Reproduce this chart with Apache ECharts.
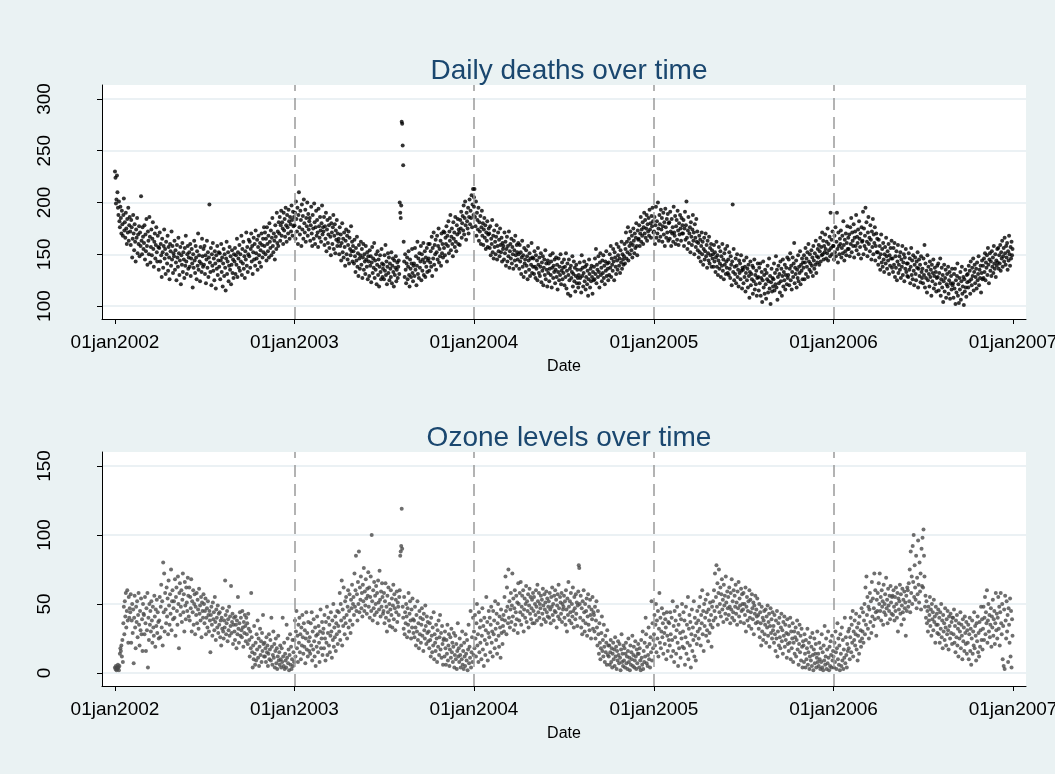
<!DOCTYPE html>
<html>
<head>
<meta charset="utf-8">
<title>Daily deaths and ozone</title>
<script src="https://cdn.jsdelivr.net/npm/echarts@6/dist/echarts.min.js"></script>
<style>
  html, body { margin: 0; padding: 0; background: #eaf2f3; }
  #main { width: 1055px; height: 774px; }
</style>
</head>
<body>
<div id="main"></div>
<script>
// one value per day from 1 Jan of each year, one row per month
var years = [2002, 2003, 2004, 2005, 2006];
var tickYears = [2002, 2003, 2004, 2005, 2006, 2007];
var deathTicks = [100, 150, 200, 250, 300];
var ozoneTicks = [0, 50, 100, 150];

var deaths2002 = [
  230,224,199,203,226,210,195,188,201,182,176,196,185,170,192,179,168,188,204,173,181,166,190,175,160,184,171,195,163,178,186,
  172,159,183,176,147,165,188,170,154,179,162,143,174,166,185,151,169,160,177,148,171,158,206,163,150,176,167,155,
  161,178,145,169,153,184,158,140,172,163,150,186,167,142,157,174,149,165,181,155,138,162,170,146,159,176,152,143,168,157,135,
  156,171,143,160,149,128,165,152,137,158,174,146,155,131,162,150,141,168,134,157,147,126,160,153,139,172,145,158,132,151,
  148,163,135,154,142,125,159,147,138,166,151,130,144,157,121,149,140,161,133,152,145,127,156,139,168,143,131,150,158,136,147,
  152,138,160,129,146,155,141,118,150,137,163,144,132,158,147,126,153,139,170,135,149,143,124,157,141,133,165,148,138,155,
  140,158,131,149,122,145,163,137,152,128,147,198,142,133,156,120,150,139,161,134,146,125,153,141,117,149,136,158,130,144,152,
  138,151,126,144,160,133,147,119,141,155,129,150,137,115,146,162,131,143,152,124,139,157,135,148,121,140,154,132,145,127,150,
  143,156,131,149,140,165,128,152,146,137,159,134,150,143,168,130,155,141,162,136,148,127,153,145,171,139,157,133,150,164,
  148,162,137,155,170,143,158,131,152,166,145,160,139,173,151,146,164,135,157,168,149,142,161,154,138,170,159,147,165,152,176,
  158,171,150,165,144,176,160,153,168,147,180,162,156,173,149,166,185,158,152,170,163,145,178,167,155,190,161,172,158,181,
  170,186,163,178,192,168,181,175,160,190,173,184,167,195,178,162,188,176,170,193,182,165,186,179,172,197,183,168,191,177,186];
var deaths2003 = [
  178,190,165,201,184,172,195,160,188,210,176,169,192,183,158,198,174,187,165,203,180,171,193,162,185,177,200,168,189,174,182,
  185,163,178,196,170,158,188,175,165,199,181,160,176,192,168,183,171,157,194,177,166,186,173,162,180,197,169,176,
  172,186,159,177,165,190,153,174,183,161,169,178,156,185,167,149,180,171,160,176,188,155,168,179,151,173,164,183,158,170,162,
  165,150,176,158,169,144,161,180,152,165,147,171,157,139,163,174,150,168,145,159,172,141,166,155,149,177,153,162,143,158,
  153,141,164,148,133,156,144,167,138,151,129,159,146,136,149,162,140,155,127,147,160,135,150,143,131,158,145,138,152,126,148,
  143,129,154,139,148,123,142,157,132,146,137,161,127,144,135,150,121,140,153,130,145,119,138,149,133,126,155,141,128,136,
  140,126,149,134,159,130,143,121,138,151,132,147,125,141,136,128,152,122,139,146,133,119,144,130,137,148,124,135,142,127,138,
  144,131,200,190,185,197,278,276,255,236,162,143,128,150,135,122,141,147,126,138,153,130,119,145,136,128,141,155,132,124,139,
  141,129,156,135,148,120,139,162,131,146,127,151,137,143,158,125,150,134,145,161,130,142,153,128,147,138,156,133,144,160,
  146,134,160,142,153,138,167,129,156,146,171,140,159,150,164,135,152,168,145,158,175,142,155,148,163,139,170,151,160,147,172,
  156,171,149,166,160,177,143,168,158,182,151,172,163,188,154,167,175,160,148,181,165,171,157,186,162,153,178,169,184,160,174,
  171,159,183,175,191,166,180,187,173,197,169,185,201,178,164,190,182,175,195,170,186,203,179,192,185,207,176,198,213,188,205];
var deaths2004 = [
  196,213,186,177,201,168,190,183,174,195,163,181,172,187,160,176,192,168,180,159,174,185,166,178,155,171,163,182,157,169,175,
  170,156,177,149,165,160,183,152,168,146,173,157,162,150,167,178,145,158,171,153,164,148,175,159,152,166,143,161,155,
  158,145,171,151,162,139,155,167,143,158,148,172,137,153,160,146,165,141,157,150,136,163,154,144,168,149,139,159,152,145,161,
  150,136,159,143,152,131,147,163,138,149,128,156,141,145,133,154,139,148,126,158,144,135,151,129,146,140,161,132,147,138,
  146,131,153,138,127,149,136,144,125,156,140,132,147,129,138,151,123,142,134,148,120,137,145,130,154,126,141,135,119,144,132,
  141,124,136,149,130,143,118,137,151,127,139,133,145,122,135,147,128,140,116,133,146,125,138,130,150,121,134,142,126,137,
  132,145,120,138,128,151,117,134,141,112,130,145,125,136,110,139,127,133,148,119,131,143,124,137,114,129,140,122,135,127,118,
  130,122,142,127,135,113,149,129,137,119,132,143,124,138,116,128,140,121,134,110,126,145,131,118,136,124,139,128,112,133,125,
  138,126,146,131,155,122,140,135,128,148,133,118,142,151,130,137,124,144,132,149,127,139,121,143,134,153,129,141,136,125,
  142,130,150,137,158,128,146,140,134,155,143,125,152,147,138,131,160,144,135,149,157,139,146,132,154,142,162,136,150,145,140,
  148,160,141,155,171,146,162,152,176,144,165,158,150,172,161,154,168,147,159,175,163,151,170,156,166,180,158,149,173,164,
  165,178,158,170,186,162,174,168,181,160,176,190,170,183,166,175,188,163,179,172,185,168,193,174,180,166,187,177,195,182,171];
var deaths2005 = [
  172,186,160,178,196,166,182,170,200,175,163,188,179,167,193,174,185,162,177,190,169,181,158,194,176,166,184,171,189,163,180,
  181,165,191,172,158,184,170,176,162,196,171,168,187,160,177,183,164,192,173,159,180,169,188,175,163,185,170,178,
  170,183,158,175,191,164,178,201,166,155,173,186,161,170,176,152,181,167,159,174,188,163,171,150,179,166,157,184,162,172,154,
  161,147,168,152,164,143,158,171,150,162,140,155,166,145,153,170,148,159,137,163,151,144,167,141,156,149,160,138,154,146,
  150,138,159,143,152,133,147,162,138,149,130,144,157,136,141,153,128,148,139,160,134,145,126,151,140,155,131,143,137,158,132,
  145,130,152,136,127,148,140,120,143,198,133,155,125,138,131,146,122,139,150,128,135,119,144,132,141,126,149,134,117,137,
  135,122,144,128,138,114,132,147,125,136,118,140,129,108,133,143,120,131,126,139,112,137,124,145,116,130,121,134,110,127,141,
  128,115,137,122,141,110,127,133,104,125,143,118,130,112,135,121,107,132,126,139,113,124,146,117,129,102,123,136,114,127,119,
  126,141,115,132,121,148,118,135,106,128,139,122,131,113,143,124,136,110,129,145,119,133,125,140,116,130,137,121,147,127,
  130,145,120,136,151,125,139,116,133,147,128,141,161,122,137,131,144,118,135,127,149,124,138,132,153,121,140,134,146,126,142,
  137,149,126,142,156,131,146,138,152,128,160,143,135,150,141,133,154,139,147,129,158,144,136,151,140,163,132,148,142,155,
  147,159,140,153,166,143,157,149,171,150,163,145,158,152,169,155,146,162,151,175,144,160,154,167,148,190,156,164,150,172,158];
var deaths2006 = [
  158,145,168,152,176,148,162,190,155,142,171,158,150,165,160,173,147,156,168,151,182,159,144,164,153,170,149,161,177,155,166,
  155,169,148,176,160,185,152,171,163,158,179,147,166,172,158,188,154,167,161,174,150,182,165,157,170,146,176,162,
  163,191,150,175,158,168,195,155,181,162,148,171,186,160,166,153,178,164,145,172,157,184,150,169,161,176,144,158,170,152,165,
  152,140,164,147,158,135,150,169,142,155,138,161,145,133,150,157,141,166,148,136,153,144,160,131,149,139,156,146,163,137,
  146,133,156,140,161,128,148,137,153,125,143,159,132,140,148,135,152,127,145,138,158,130,142,150,124,147,136,155,133,141,129,
  141,128,151,135,146,122,138,156,130,144,126,149,134,120,140,147,131,125,143,137,152,118,136,145,129,140,123,148,133,127,
  136,122,146,130,159,118,141,127,134,113,149,125,138,131,119,143,128,135,110,140,124,132,145,117,129,137,121,133,114,127,139,
  128,141,115,132,122,146,110,126,137,118,130,104,124,140,114,127,135,108,121,131,119,138,112,125,133,107,122,129,116,136,120,
  122,108,131,117,136,102,125,113,129,141,110,121,103,127,116,133,106,124,138,112,119,128,101,126,114,135,118,109,130,123,
  131,118,139,124,134,112,143,126,120,137,129,146,115,133,140,122,128,136,117,142,125,131,148,120,135,127,139,113,132,144,126,
  139,127,146,133,151,125,142,137,149,130,156,140,122,145,151,134,143,129,153,138,147,132,158,141,136,150,128,144,139,155,
  142,156,136,149,141,159,134,152,146,163,138,148,156,143,166,151,140,158,147,161,135,153,144,168,150,139,157,146,162,149,155];

var ozone2002 = [
  4,3,5,2,4,3,6,4,2,5,14,18,16,20,12,24,8,36,48,28,52,41,58,33,45,60,38,22,55,40,47,
  44,57,22,38,50,29,46,7,40,56,33,18,48,37,52,26,42,58,35,20,45,31,54,28,39,16,50,43,
  42,28,55,36,16,47,31,58,4,40,24,50,35,45,30,52,38,22,48,33,27,56,41,19,46,34,53,29,44,37,25,
  38,55,26,48,64,33,52,20,80,44,72,30,58,46,36,62,41,54,28,67,49,35,57,43,75,31,52,60,39,47,
  52,40,68,27,55,62,45,35,70,50,18,58,65,42,48,60,37,53,72,44,57,30,66,49,39,62,51,45,69,56,41,
  62,38,55,47,68,30,52,44,60,35,50,57,28,48,42,58,36,53,46,32,61,43,49,38,55,26,51,45,40,57,
  50,36,45,54,28,40,47,33,52,42,30,45,38,15,42,48,35,27,51,39,44,31,55,37,24,46,40,33,49,29,43,
  35,44,26,38,20,40,32,47,30,25,38,33,67,42,28,36,45,23,39,31,48,27,41,34,63,29,37,43,21,35,40,
  30,24,41,35,18,38,28,55,32,22,36,44,27,40,31,26,45,33,19,37,29,42,34,23,40,28,36,21,43,32,
  24,12,30,18,58,26,15,4,20,10,34,14,6,22,9,28,17,38,11,25,5,19,32,13,23,8,29,16,42,21,12,
  22,12,18,8,26,15,20,5,14,28,10,17,24,9,40,19,6,13,30,11,21,4,16,25,7,18,3,12,27,9,
  15,6,20,10,4,18,8,40,12,5,22,3,14,9,4,35,11,25,7,17,2,13,28,6,19,3,10,24,5,15,8];
var ozone2003 = [
  24,38,12,30,45,18,27,8,35,22,40,15,28,10,33,20,42,26,14,36,19,31,7,25,44,17,29,12,37,23,16,
  26,14,36,20,44,9,30,17,39,23,12,33,5,27,19,41,28,15,34,22,8,30,46,18,25,37,13,29,
  32,18,42,25,9,37,22,48,13,29,40,20,35,15,27,44,30,11,38,24,50,19,33,26,41,16,36,28,45,21,34,
  44,30,58,24,50,38,67,20,46,34,62,40,28,52,36,55,42,25,48,60,33,45,57,38,29,53,47,64,35,50,
  55,42,72,48,60,85,45,57,38,66,50,88,44,62,53,70,47,58,41,64,52,76,45,59,49,68,54,43,61,56,73,
  48,62,40,55,70,45,100,52,38,60,47,66,42,56,50,63,44,58,36,67,51,46,74,53,41,59,48,65,55,43,
  45,58,36,52,65,40,48,30,56,44,62,38,50,34,46,60,42,54,33,49,64,39,57,47,31,53,44,59,37,51,48,
  42,55,60,85,88,92,119,90,48,40,32,55,28,44,36,50,41,26,47,35,58,30,43,52,38,25,46,33,54,39,29,
  38,26,48,33,20,42,30,52,24,36,18,45,28,40,22,35,47,27,39,16,43,31,25,49,34,21,41,29,37,23,
  30,18,36,24,12,40,27,15,33,20,44,10,28,22,16,35,25,8,31,19,38,13,26,42,17,29,11,34,21,6,24,
  25,12,30,18,6,24,14,35,9,20,28,5,17,26,11,32,15,22,8,19,29,4,13,27,10,21,3,16,36,12,
  18,8,25,13,4,20,10,30,6,16,3,22,12,5,28,14,9,24,2,17,35,7,19,11,45,4,15,26,8,40,13];
var ozone2004 = [
  30,18,42,25,12,36,50,20,28,8,44,15,33,22,38,10,27,47,17,34,5,40,24,13,31,55,21,37,9,29,45,
  26,40,15,35,48,22,30,12,45,28,38,18,52,32,24,43,14,36,50,27,19,41,33,11,46,29,39,21,34,
  42,30,55,38,70,45,28,62,48,36,75,40,52,33,46,58,37,49,72,41,54,31,47,60,35,44,56,39,51,29,65,
  50,38,58,44,66,35,48,56,42,60,30,46,54,40,50,63,37,52,45,57,33,49,61,43,55,39,47,53,36,58,
  45,55,36,50,42,60,48,38,64,52,44,58,40,50,47,56,35,53,43,61,49,39,57,46,51,37,59,44,54,41,48,
  52,40,58,46,36,55,48,62,42,50,38,56,45,60,44,53,33,49,57,41,64,47,39,55,51,43,58,37,50,46,
  48,56,40,52,35,60,46,30,54,42,66,48,38,52,44,58,36,50,41,62,45,33,55,47,39,57,43,51,34,49,59,
  78,76,50,40,56,33,47,28,52,38,60,44,30,50,36,45,54,27,41,57,35,48,31,53,42,25,46,39,55,32,44,
  42,30,48,25,38,52,33,20,45,28,14,36,22,10,18,29,41,16,24,12,35,19,8,27,15,22,6,31,13,20,
  12,20,6,15,24,8,18,4,14,22,10,17,5,26,12,19,3,16,9,23,13,7,21,11,2,17,28,8,14,5,20,
  9,18,4,14,22,7,12,3,16,25,8,11,2,20,6,15,10,27,5,13,19,4,9,23,12,3,17,7,14,21,
  14,4,18,9,2,24,11,6,30,3,16,8,22,12,40,28,7,19,5,13,33,10,21,4,26,15,52,9,36,18,24];
var ozone2005 = [
  28,42,20,35,50,15,38,25,45,12,32,58,22,40,18,30,47,26,36,14,43,29,21,39,33,10,44,27,16,37,24,
  36,20,44,28,12,40,24,52,16,34,8,45,26,38,14,31,48,22,5,35,18,42,29,11,39,25,50,19,
  30,44,18,38,6,26,48,14,35,22,55,10,32,42,20,37,4,28,46,16,33,24,52,12,40,27,9,36,21,45,30,
  38,25,48,32,55,20,42,36,60,28,45,16,50,34,40,53,27,44,31,57,23,46,38,29,51,35,42,19,48,33,
  52,38,60,45,72,40,55,78,48,65,35,58,75,44,50,62,41,57,68,46,53,37,64,49,56,43,70,51,39,59,47,
  55,42,62,48,36,58,46,68,40,52,44,60,38,56,48,64,43,51,35,59,47,66,41,54,49,37,61,45,57,50,
  46,58,36,50,42,62,30,48,55,38,45,52,34,60,40,53,44,32,57,47,39,51,28,49,43,56,36,46,41,54,37,
  42,32,50,26,44,36,20,48,30,40,24,38,45,28,35,46,22,41,33,49,27,37,43,19,34,47,29,39,25,44,31,
  34,22,42,28,16,38,25,45,12,30,36,20,40,26,18,33,43,23,31,14,37,27,41,19,35,24,29,11,39,21,
  28,16,34,22,40,10,30,18,25,36,8,22,30,14,26,33,12,24,38,17,29,6,21,35,15,27,9,32,19,4,23,
  20,8,28,14,4,24,10,18,32,6,15,22,3,12,26,9,19,5,29,13,2,17,25,7,14,21,4,11,30,8,
  14,5,22,10,3,18,8,28,4,15,2,20,9,34,6,12,25,3,17,7,30,11,2,19,5,23,13,4,27,9,16];
var ozone2006 = [
  12,4,22,8,30,15,3,18,36,10,25,6,20,2,28,14,5,33,9,24,3,17,11,40,7,26,13,4,21,16,30,
  18,32,10,26,40,15,35,22,45,12,30,24,38,20,28,43,17,33,9,27,36,14,41,23,31,19,47,25,
  30,44,22,38,50,28,62,35,70,42,55,32,48,25,46,58,37,52,29,66,41,54,34,47,72,39,60,44,27,53,45,
  58,40,65,50,72,45,55,38,60,48,52,35,64,44,50,57,42,69,47,53,36,61,49,45,56,39,63,51,43,55,
  56,42,60,48,38,55,45,62,50,40,58,30,54,46,52,64,43,57,35,49,61,44,53,39,59,47,51,27,56,45,62,
  60,48,65,52,75,44,88,58,70,50,92,66,100,55,78,62,53,85,47,69,57,96,64,51,80,59,72,46,90,63,
  98,62,104,85,70,48,56,40,52,36,45,30,48,38,42,55,34,46,27,50,39,44,31,53,37,41,22,48,35,43,29,
  35,46,28,40,22,44,32,50,26,38,18,42,30,36,24,47,33,20,39,28,45,31,17,41,34,25,43,29,37,21,40,
  40,28,46,22,34,15,38,26,42,20,32,12,36,25,30,44,18,35,27,10,39,23,33,16,41,29,21,37,14,31,
  22,35,10,28,40,16,32,6,25,38,14,30,20,44,18,34,27,9,36,23,41,15,29,12,37,19,31,48,24,39,17,
  32,48,24,40,55,28,44,36,60,22,38,50,30,42,26,35,47,19,41,33,53,27,39,45,21,36,58,31,43,25,
  40,55,32,48,20,44,58,36,28,50,10,34,5,46,3,56,38,25,52,30,42,8,47,35,22,54,12,45,4,39,27];

var deathsByYear = [deaths2002, deaths2003, deaths2004, deaths2005, deaths2006];
var ozoneByYear = [ozone2002, ozone2003, ozone2004, ozone2005, ozone2006];

var DAY = 86400000;
var origin = Date.UTC(2002, 0, 1);
function dayOf(y) { return (Date.UTC(y, 0, 1) - origin) / DAY; }

// day number since 01jan2002 -> [x, value]
function toPoints(arrays) {
  var pts = [];
  years.forEach(function (y, k) {
    var base = dayOf(y);
    arrays[k].forEach(function (v, i) { pts.push([base + i, v]); });
  });
  return pts;
}

var tickDays = tickYears.map(dayOf);
var labelOf = {};
tickYears.forEach(function (y) { labelOf[dayOf(y)] = '01jan' + y; });
var yearLines = tickDays.slice(1, -1);

var FONT = 'Liberation Sans';

function makeX(idx) {
  return {
    type: 'value', gridIndex: idx,
    min: -26.4, max: tickDays[tickDays.length - 1] + 26.4,
    name: 'Date', nameLocation: 'middle', nameGap: 40,
    nameTextStyle: { color: '#000', fontSize: 16, fontFamily: FONT },
    axisLine: { show: true, onZero: false, lineStyle: { color: '#000', width: 1 } },
    axisTick: { show: true, length: 5, customValues: tickDays, lineStyle: { color: '#000' } },
    axisLabel: {
      customValues: tickDays, margin: 14, color: '#000', fontSize: 19, fontFamily: FONT,
      formatter: function (v) { return labelOf[v] || ''; }
    },
    splitLine: { show: false }
  };
}

function makeY(idx, min, max, ticks) {
  return {
    type: 'value', gridIndex: idx, min: min, max: max,
    axisLine: { show: true, onZero: false, lineStyle: { color: '#000', width: 1 } },
    axisTick: { show: true, length: 5, customValues: ticks, lineStyle: { color: '#000' } },
    axisLabel: { customValues: ticks, rotate: 90, margin: 48, color: '#000', fontSize: 19, fontFamily: FONT },
    splitLine: { show: true, lineStyle: { color: '#e4edf0', width: 1.5 } }
  };
}

function dashed() {
  return {
    silent: true, symbol: ['none', 'none'], label: { show: false },
    lineStyle: { color: '#9b9b9b', width: 1.5, type: [12, 7] },
    data: yearLines.map(function (d) { return { xAxis: d }; })
  };
}

var myChart = echarts.init(document.getElementById('main'));
myChart.setOption({
  animation: false,
  backgroundColor: '#eaf2f3',
  title: [
    { text: 'Daily deaths over time', left: 564, top: 52, textAlign: 'center',
      textStyle: { color: '#1a476f', fontSize: 28, fontWeight: 'normal', fontFamily: FONT } },
    { text: 'Ozone levels over time', left: 564, top: 419, textAlign: 'center',
      textStyle: { color: '#1a476f', fontSize: 28, fontWeight: 'normal', fontFamily: FONT } }
  ],
  grid: [
    { left: 102, right: 29, top: 85, height: 234, outerBoundsMode: 'none',
      show: true, backgroundColor: '#ffffff', borderWidth: 0 },
    { left: 102, right: 29, top: 452, height: 234, outerBoundsMode: 'none',
      show: true, backgroundColor: '#ffffff', borderWidth: 0 }
  ],
  xAxis: [makeX(0), makeX(1)],
  yAxis: [makeY(0, 87.5, 313.5, deathTicks), makeY(1, -9.4, 160.1, ozoneTicks)],
  series: [
    { name: 'deaths', type: 'scatter', xAxisIndex: 0, yAxisIndex: 0, symbolSize: 4,
      itemStyle: { color: '#000000' }, data: toPoints(deathsByYear), markLine: dashed() },
    { name: 'ozone', type: 'scatter', xAxisIndex: 1, yAxisIndex: 1, symbolSize: 4,
      itemStyle: { color: '#4a4a4a' }, data: toPoints(ozoneByYear), markLine: dashed() }
  ]
});
</script>
</body>
</html>
